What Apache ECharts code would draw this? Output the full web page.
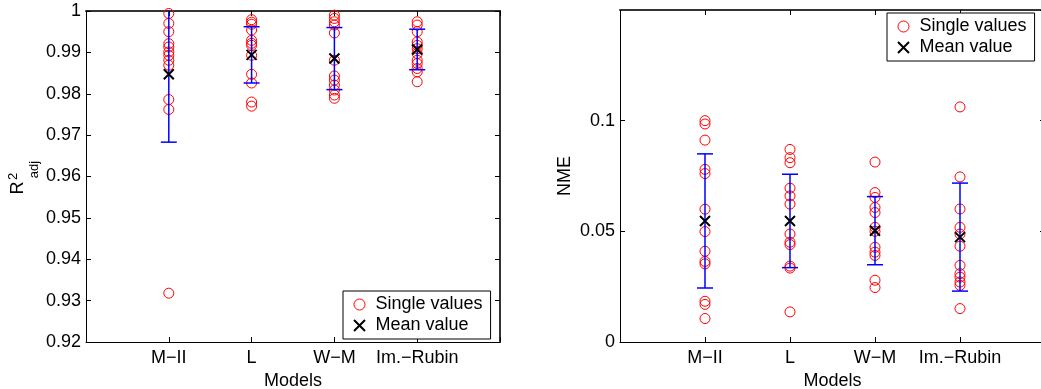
<!DOCTYPE html>
<html><head><meta charset="utf-8">
<script src="https://cdn.jsdelivr.net/npm/echarts@6/dist/echarts.min.js"></script>
<style>html,body{margin:0;padding:0;background:#fff}#c{width:1041px;height:389px}</style>
</head><body><div id="c"></div>
<script>
// ---- data ----
const categories = ['M\u2212II', 'L', 'W\u2212M', 'Im.\u2212Rubin'];

// R^2_adj single values per model
const r2_MII   = [0.9994, 0.9970, 0.9950, 0.9921, 0.9913, 0.9901, 0.9893, 0.9881, 0.9869, 0.9786, 0.9762, 0.9318];
const r2_L     = [0.9979, 0.9973, 0.9968, 0.9954, 0.9929, 0.9922, 0.9917, 0.9893, 0.9847, 0.9826, 0.9780, 0.9770];
const r2_WM    = [0.9990, 0.9982, 0.9974, 0.9966, 0.9947, 0.9881, 0.9843, 0.9833, 0.9821, 0.9809, 0.9797, 0.9789];
const r2_IR    = [0.9974, 0.9966, 0.9950, 0.9925, 0.9917, 0.9909, 0.9897, 0.9881, 0.9873, 0.9861, 0.9853, 0.9829];
const r2Mean   = [0.9847, 0.9894, 0.9885, 0.9907];
const r2Std    = [0.0164, 0.0068, 0.0075, 0.0049];

// NME single values per model
const nme_MII  = [0.1000, 0.0985, 0.0912, 0.0780, 0.0761, 0.0600, 0.0499, 0.0410, 0.0364, 0.0353, 0.0184, 0.0170, 0.0106];
const nme_L    = [0.0870, 0.0833, 0.0810, 0.0695, 0.0660, 0.0623, 0.0488, 0.0451, 0.0440, 0.0343, 0.0334, 0.0136];
const nme_WM   = [0.0813, 0.0675, 0.0653, 0.0608, 0.0585, 0.0518, 0.0500, 0.0428, 0.0406, 0.0391, 0.0279, 0.0246];
const nme_IR   = [0.1062, 0.0746, 0.0601, 0.0518, 0.0488, 0.0433, 0.0346, 0.0309, 0.0293, 0.0271, 0.0256, 0.0151];
const nmeMean  = [0.0547, 0.0547, 0.0503, 0.0474];
const nmeStd   = [0.0303, 0.0211, 0.0154, 0.0244];

// axis ranges / ticks
const r2Min = 0.92, r2Max = 1.0, r2Step = 0.01;
const nmeMin = 0, nmeMax = 0.15, nmeStep = 0.05;

// ---- build ----
const FONT = '"Liberation Sans", Arial, Helvetica, sans-serif';
const XPATH = 'path://M0,0L10,10M10,0L0,10';

function points(groups) {
  const out = [];
  groups.forEach((g, i) => g.forEach(v => out.push([i + 1, v])));
  return out;
}
function meanPts(means) { return means.map((m, i) => [i + 1, m]); }
function errPts(means, stds) { return means.map((m, i) => [i + 1, m, stds[i]]); }

function renderErrorBar(params, api) {
  const x = api.value(0), m = api.value(1), s = api.value(2);
  const top = api.coord([x, m + s]);
  const bot = api.coord([x, m - s]);
  const hw = 8;
  const st = { stroke: '#0000ff', lineWidth: 1.5 };
  return {
    type: 'group',
    children: [
      { type: 'line', shape: { x1: top[0], y1: top[1], x2: bot[0], y2: bot[1] }, style: st },
      { type: 'line', shape: { x1: top[0] - hw, y1: top[1], x2: top[0] + hw, y2: top[1] }, style: st },
      { type: 'line', shape: { x1: bot[0] - hw, y1: bot[1], x2: bot[0] + hw, y2: bot[1] }, style: st }
    ]
  };
}

const lineStyle = { color: '#000', width: 1 };
const boxLine = { color: '#333', width: 2 };
function bottomX(grid) {
  return {
    type: 'value', gridIndex: grid, min: 0, max: 5, interval: 1, position: 'bottom',
    axisLine: { show: true, onZero: false, lineStyle },
    axisTick: { show: true, inside: true, length: 5, lineStyle },
    splitLine: { show: false },
    axisLabel: {
      color: '#000', fontSize: 18, fontFamily: FONT, margin: 7,
      formatter: v => categories[v - 1] || ''
    },
    name: 'Models', nameLocation: 'middle', nameGap: 23,
    nameTextStyle: { color: '#000', fontSize: 18, fontFamily: FONT }
  };
}
function topX(grid) {
  return {
    type: 'value', gridIndex: grid, min: 0, max: 5, interval: 1, position: 'top',
    axisLine: { show: true, onZero: false, lineStyle: boxLine },
    axisTick: { show: true, inside: true, length: 5, lineStyle },
    splitLine: { show: false }, axisLabel: { show: false }
  };
}
function leftY(grid, min, max, step, extra) {
  return Object.assign({
    type: 'value', gridIndex: grid, min, max, interval: step, position: 'left',
    axisLine: { show: true, onZero: false, lineStyle },
    axisTick: { show: true, inside: true, length: 5, lineStyle },
    splitLine: { show: false },
    axisLabel: { color: '#000', fontSize: 18, fontFamily: FONT, margin: 5 }
  }, extra || {});
}
function rightY(grid, min, max, step) {
  return {
    type: 'value', gridIndex: grid, min, max, interval: step, position: 'right',
    axisLine: { show: true, onZero: false, lineStyle: boxLine },
    axisTick: { show: true, inside: true, length: 5, lineStyle },
    splitLine: { show: false }, axisLabel: { show: false }
  };
}

function legendAt(left, top) {
  return {
    orient: 'vertical', left, top, padding: [3, 8, 3, 10], itemGap: 0,
    itemWidth: 18, itemHeight: 11, selectedMode: false,
    borderColor: '#000', borderWidth: 1, backgroundColor: '#fff', borderRadius: 0,
    textStyle: { fontSize: 18, lineHeight: 21, color: '#000', fontFamily: FONT, padding: [0, 0, 0, 2] },
    data: [
      { name: 'Single values', icon: 'circle', itemStyle: { color: 'transparent', borderColor: '#ff0000', borderWidth: 1 } },
      { name: 'Mean value', icon: XPATH, itemStyle: { color: 'transparent', borderColor: '#000', borderWidth: 2 } }
    ]
  };
}

function seriesFor(xi, yi, groups, means, stds) {
  return [
    {
      name: 'Single values', type: 'scatter', xAxisIndex: xi, yAxisIndex: yi,
      symbol: 'circle', symbolSize: 10, clip: false,
      itemStyle: { color: 'transparent', borderColor: '#ff0000', borderWidth: 1, opacity: 1 },
      data: points(groups), z: 2
    },
    {
      name: 'Std', type: 'custom', xAxisIndex: xi, yAxisIndex: yi, clip: true,
      renderItem: renderErrorBar, data: errPts(means, stds), z: 3
    },
    {
      name: 'Mean value', type: 'scatter', xAxisIndex: xi, yAxisIndex: yi,
      symbol: XPATH, symbolSize: 10, clip: false,
      itemStyle: { color: 'transparent', borderColor: '#000', borderWidth: 2, opacity: 1 },
      data: meanPts(means), z: 4
    }
  ];
}

const chart = echarts.init(document.getElementById('c'), null, { renderer: 'canvas' });
chart.setOption({
  animation: false,
  backgroundColor: '#fff',
  grid: [
    { left: 86, top: 11, width: 414, height: 331, containLabel: false, outerBoundsMode: 'none' },
    { left: 620, top: 10, width: 425, height: 332, containLabel: false, outerBoundsMode: 'none' }
  ],
  xAxis: [bottomX(0), topX(0), bottomX(1), topX(1)],
  yAxis: [
    leftY(0, r2Min, r2Max, r2Step),
    rightY(0, r2Min, r2Max, r2Step),
    leftY(1, nmeMin, nmeMax, nmeStep, {
      axisLabel: { color: '#000', fontSize: 18, fontFamily: FONT, margin: 5, showMaxLabel: false },
      name: 'NME', nameLocation: 'middle', nameGap: 46, nameRotate: 90,
      nameTextStyle: { color: '#000', fontSize: 18, fontFamily: FONT }
    }),
    rightY(1, nmeMin, nmeMax, nmeStep)
  ],
  legend: [legendAt(343, 291), legendAt(887, 13)],
  graphic: [
    {
      type: 'group', x: 25, y: 194, rotation: Math.PI / 2,
      children: [
        { type: 'text', x: 6, y: -6.5,
          style: { text: 'R', fontSize: 18, fontFamily: FONT, fill: '#000', align: 'center', verticalAlign: 'middle' } },
        { type: 'text', x: 17.5, y: -11.5,
          style: { text: '2', fontSize: 13, fontFamily: FONT, fill: '#000', align: 'center', verticalAlign: 'middle' } },
        { type: 'text', x: 24.5, y: 9,
          style: { text: 'adj', fontSize: 13, fontFamily: FONT, fill: '#000', align: 'center', verticalAlign: 'middle' } }
      ]
    }
  ],
  series: [].concat(
    seriesFor(0, 0, [r2_MII, r2_L, r2_WM, r2_IR], r2Mean, r2Std),
    seriesFor(2, 2, [nme_MII, nme_L, nme_WM, nme_IR], nmeMean, nmeStd)
  )
});
</script>
</body></html>
